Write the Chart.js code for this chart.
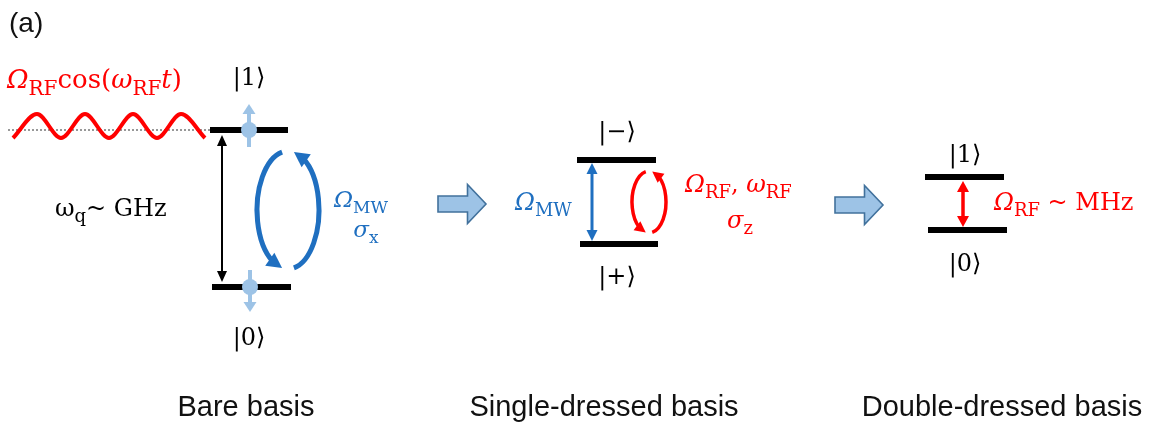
<!DOCTYPE html>
<html>
<head>
<meta charset="utf-8">
<script src="https://cdn.jsdelivr.net/npm/chart.js@4"></script>
<style>
  html, body { margin: 0; padding: 0; background: #ffffff; }
  #wrap { width: 1156px; height: 430px; position: relative; }
</style>
</head>
<body>
<div id="wrap"><canvas id="c"></canvas></div>
<script>
// Three views of one two-level system, left to right
const basisNames   = ['Bare basis', 'Single-dressed basis', 'Double-dressed basis'];
const basisCenters = [246, 604, 1002];

// Energy levels (diagram units, y grows downward)
const levelStart = [210, 212, 577, 580, 925, 928];
const levelEnd   = [288, 291, 656, 658, 1004, 1007];
const levelY     = [130, 287, 160, 244, 177, 230];

// RF drive: crests and troughs of the wave, plus its dotted axis
const waveX = [13, 37, 61, 85, 109, 133, 157, 181, 205];
const waveY = [138, 114, 138, 114, 138, 114, 138, 114, 138];
const waveAxisX = [8, 210];
const waveAxisY = [130, 130];

// Spin markers on the bare levels: dot position, tail and tip of the arrow
const spinX    = [249, 250];
const spinY    = [130, 287];
const spinTail = [147, 270];
const spinTip  = [104, 312];

// Vertical double arrows (transition splittings)
const splitX      = [222, 592, 963];
const splitTop    = [135, 163, 181];
const splitBottom = [282, 241, 227];
const splitColors = ['#000000', '#1f6fc0', '#ff0000'];

// Driving loops (ellipses with two curved arrows)
const loopCx = [288, 649];
const loopCy = [210, 202];
const loopRx = [31, 17];
const loopRy = [59, 31];
const loopColors = ['#1f6fc0', '#ff0000'];

// Block arrows between the panels
const stepLeft  = [438, 835];
const stepRight = [486, 883];
const stepMid   = [204, 205];

// State labels
const ketText = ['|1\u27E9', '|0\u27E9', '|\u2212\u27E9', '|+\u27E9', '|1\u27E9', '|0\u27E9'];
const ketX    = [249, 249, 617, 617, 965, 965];
const ketBase = [85, 345, 139, 284, 162, 271];

const RED = '#ff0000', BLUE = '#1f6fc0', BLACK = '#000000';
const SERIF = "'DejaVu Serif', 'Liberation Serif', serif";

// Formula labels: segments are [text, style], style i = italic, n = upright, s = subscript
const mathLabels = [
  { parts: [['\u03A9','i'],['RF','s'],['cos(','n'],['\u03C9','i'],['RF','s'],['t','i'],[')','n']], x: 7, y: 88, size: 26, color: RED, align: 'left' },
  { parts: [['\u03C9','n'],['q','s'],['~ GHz','n']], x: 55, y: 216, size: 24, color: BLACK, align: 'left' },
  { parts: [['\u03A9','i'],['MW','s']], x: 361, y: 207, size: 23, color: BLUE, align: 'center' },
  { parts: [['\u03C3','i'],['x','s']], x: 366, y: 237, size: 23, color: BLUE, align: 'center' },
  { parts: [['\u03A9','i'],['MW','s']], x: 515, y: 210, size: 24, color: BLUE, align: 'left' },
  { parts: [['\u03A9','i'],['RF','s'],[', ','n'],['\u03C9','i'],['RF','s']], x: 685, y: 192, size: 24, color: RED, align: 'left' },
  { parts: [['\u03C3','i'],['z','s']], x: 740, y: 228, size: 24, color: RED, align: 'center' },
  { parts: [['\u03A9','i'],['RF','s'],[' ~ MHz','n']], x: 994, y: 210, size: 24, color: RED, align: 'left' }
];

function segFont(style, size) {
  if (style === 'i') return 'italic ' + size + 'px ' + SERIF;
  if (style === 's') return Math.round(size * 0.76) + 'px ' + SERIF;
  return size + 'px ' + SERIF;
}

function drawRich(ctx, lab, sx, sy) {
  let total = 0;
  lab.parts.forEach(p => { ctx.font = segFont(p[1], lab.size); total += ctx.measureText(p[0]).width; });
  let x = sx(lab.x);
  if (lab.align === 'center') x -= total / 2;
  const y = sy(lab.y);
  ctx.fillStyle = lab.color;
  ctx.textAlign = 'left';
  ctx.textBaseline = 'alphabetic';
  lab.parts.forEach(p => {
    ctx.font = segFont(p[1], lab.size);
    const dy = p[1] === 's' ? lab.size * 0.26 : 0;
    ctx.fillText(p[0], x, y + dy);
    x += ctx.measureText(p[0]).width;
  });
}

function triangle(ctx, tipX, tipY, dirX, dirY, len, half) {
  const n = Math.hypot(dirX, dirY); dirX /= n; dirY /= n;
  const bx = tipX - dirX * len, by = tipY - dirY * len;
  ctx.beginPath();
  ctx.moveTo(tipX, tipY);
  ctx.lineTo(bx - dirY * half, by + dirX * half);
  ctx.lineTo(bx + dirY * half, by - dirX * half);
  ctx.closePath();
  ctx.fill();
}

function loopArc(ctx, cx, cy, rx, ry, a0, a1, lw, color) {
  const speed = Math.hypot(rx * Math.sin(a1), ry * Math.cos(a1));
  const headLen = lw * 2.6;
  const aEnd = a1 + headLen / speed * 0.8;
  ctx.strokeStyle = color; ctx.fillStyle = color; ctx.lineWidth = lw; ctx.lineCap = 'butt';
  ctx.beginPath();
  ctx.ellipse(cx, cy, rx, ry, 0, a0, aEnd, true);
  ctx.stroke();
  const tipX = cx + rx * Math.cos(a1), tipY = cy + ry * Math.sin(a1);
  const bX = cx + rx * Math.cos(aEnd), bY = cy + ry * Math.sin(aEnd);
  triangle(ctx, tipX, tipY, tipX - bX, tipY - bY, headLen + 2, lw * 1.6);
}

const deg = Math.PI / 180;

const diagramPlugin = {
  id: 'diagram',
  afterDatasetsDraw(chart) {
    const ctx = chart.ctx;
    const sx = v => chart.scales.x.getPixelForValue(v);
    const sy = v => chart.scales.y.getPixelForValue(v);
    ctx.save();

    // spin arrows through the dots
    ctx.fillStyle = '#9dc3e6'; ctx.strokeStyle = '#9dc3e6';
    spinX.forEach((x, i) => {
      const dir = spinTip[i] < spinTail[i] ? -1 : 1;
      ctx.lineWidth = 4;
      ctx.beginPath();
      ctx.moveTo(sx(x), sy(spinTail[i]));
      ctx.lineTo(sx(x), sy(spinTip[i]) - dir * 9);
      ctx.stroke();
      triangle(ctx, sx(x), sy(spinTip[i]), 0, dir, 10, 6.5);
      ctx.beginPath();
      ctx.arc(sx(x), sy(spinY[i]), 8, 0, Math.PI * 2);
      ctx.fill();
    });

    // vertical double arrows
    const splitWidth = [2, 3, 3.5];
    const splitHead = [[11, 5], [11, 5.5], [11, 6]];
    splitX.forEach((x, i) => {
      const px = sx(x), t = sy(splitTop[i]), b = sy(splitBottom[i]);
      const [hl, hw] = splitHead[i];
      ctx.strokeStyle = splitColors[i]; ctx.fillStyle = splitColors[i];
      ctx.lineWidth = splitWidth[i];
      ctx.beginPath(); ctx.moveTo(px, t + hl - 2); ctx.lineTo(px, b - hl + 2); ctx.stroke();
      triangle(ctx, px, t, 0, -1, hl, hw);
      triangle(ctx, px, b, 0, 1, hl, hw);
    });

    // driving loops
    const loopWidth = [5, 3.5];
    loopCx.forEach((cx, i) => {
      const px = sx(cx), py = sy(loopCy[i]);
      const rx = sx(cx + loopRx[i]) - px, ry = sy(loopCy[i] + loopRy[i]) - py;
      loopArc(ctx, px, py, rx, ry, 259 * deg, 101 * deg, loopWidth[i], loopColors[i]);
      loopArc(ctx, px, py, rx, ry, 79 * deg, -79 * deg, loopWidth[i], loopColors[i]);
    });

    // block arrows between panels
    stepLeft.forEach((l, i) => {
      const L = sx(l), R = sx(stepRight[i]), C = sy(stepMid[i]);
      const shaft = 8, head = 19.5, hl = 18.5;
      ctx.beginPath();
      ctx.moveTo(L, C - shaft);
      ctx.lineTo(R - hl, C - shaft);
      ctx.lineTo(R - hl, C - head);
      ctx.lineTo(R, C);
      ctx.lineTo(R - hl, C + head);
      ctx.lineTo(R - hl, C + shaft);
      ctx.lineTo(L, C + shaft);
      ctx.closePath();
      ctx.fillStyle = '#9dc3e6'; ctx.fill();
      ctx.strokeStyle = '#41719c'; ctx.lineWidth = 1.6; ctx.lineJoin = 'miter'; ctx.stroke();
    });

    // kets
    ctx.fillStyle = BLACK;
    ctx.font = '24px ' + SERIF;
    ctx.textAlign = 'center'; ctx.textBaseline = 'alphabetic';
    ketText.forEach((t, i) => ctx.fillText(t, sx(ketX[i]), sy(ketBase[i])));

    // formula labels
    mathLabels.forEach(lab => drawRich(ctx, lab, sx, sy));

    // panel captions and the panel tag
    ctx.fillStyle = '#111111';
    ctx.font = "29px 'Liberation Sans', Arial, sans-serif";
    ctx.textAlign = 'center';
    basisNames.forEach((n, i) => ctx.fillText(n, sx(basisCenters[i]), sy(416)));
    ctx.font = "28px 'Liberation Sans', Arial, sans-serif";
    ctx.textAlign = 'left';
    ctx.fillText('(a)', sx(9), sy(32));

    ctx.restore();
  }
};

const levelSets = levelY.map((y, i) => ({
  data: [{ x: levelStart[i], y: y }, { x: levelEnd[i], y: y }],
  showLine: true, borderColor: BLACK, borderWidth: 6, borderCapStyle: 'butt',
  pointRadius: 0, order: 1
}));

new Chart(document.getElementById('c'), {
  type: 'scatter',
  data: {
    datasets: [
      {
        data: waveAxisX.map((x, i) => ({ x: x, y: waveAxisY[i] })),
        showLine: true, borderColor: '#555555', borderWidth: 1.2, borderDash: [2, 2],
        pointRadius: 0, order: 4
      },
      {
        data: waveX.map((x, i) => ({ x: x, y: waveY[i] })),
        showLine: true, borderColor: RED, borderWidth: 4, cubicInterpolationMode: 'monotone',
        pointRadius: 0, order: 3
      },
      ...levelSets
    ]
  },
  options: {
    responsive: true,
    maintainAspectRatio: false,
    animation: false,
    layout: { padding: 0 },
    scales: {
      x: { type: 'linear', min: 0, max: 1156, display: false },
      y: { type: 'linear', min: 0, max: 430, reverse: true, display: false }
    },
    plugins: { legend: { display: false }, tooltip: { enabled: false } },
    events: []
  },
  plugins: [diagramPlugin]
});
</script>
</body>
</html>
